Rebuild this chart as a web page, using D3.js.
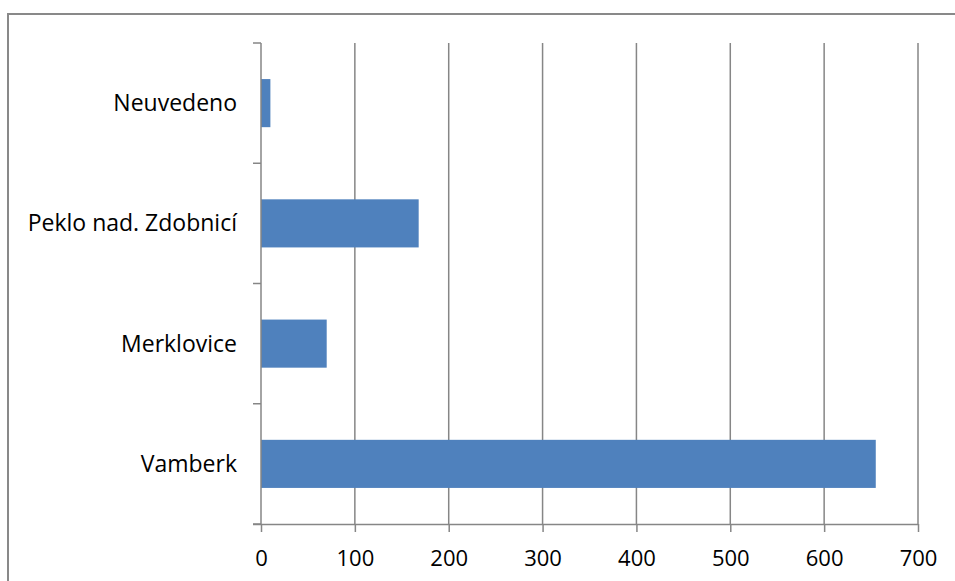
<!DOCTYPE html>
<html>
<head>
<meta charset="utf-8">
<script src='https://d3js.org/d3.v7.min.js'></script>
<style>
body {margin:0; background-color:#ffffff;}
svg text {font-family:'Open Sans',sans-serif; fill:#000;}
</style>
</head>
<body>
<svg width=955 height=581></svg>

<script>
var categories = ['Vamberk','Merklovice','Peklo nad. Zdobnicí','Neuvedeno']
var values = [655,70,168,10]
var ticks = [0,100,200,300,400,500,600,700]

var marginLeft = 261
var marginTop = 43
var width = 657
var height = 481

var svg = d3.select('svg')

// outer frame (runs off the right and bottom edge)
svg.append('path')
   .attr('d','M8,600 V14 H980')
   .attr('fill','none')
   .attr('stroke','#898989')
   .attr('stroke-width',2)

var x = d3.scaleLinear().domain([0,700]).range([0,width])
var y = d3.scaleBand().domain(categories).range([height,0]).paddingInner(0.6).paddingOuter(0.3)

var g = svg.append('g').attr('transform','translate('+marginLeft+','+marginTop+')')

// vertical gridlines
g.selectAll('.grid')
  .data(ticks.slice(1))
  .enter()
  .append('line')
    .attr('x1',function(d) {return x(d);})
    .attr('x2',function(d) {return x(d);})
    .attr('y1',0)
    .attr('y2',height)
    .attr('stroke','#868686')
    .attr('stroke-width',1.5)

// bars
g.selectAll('rect')
  .data(values)
  .enter()
  .append('rect')
    .attr('x',0)
    .attr('y',function(d,i) {return y(categories[i]);})
    .attr('width',function(d) {return x(d);})
    .attr('height',y.bandwidth())
    .attr('fill','#4F81BD')

// x axis
var xAxis = g.append('g')
   .attr('transform','translate(0,'+height+')')
   .call(d3.axisBottom(x).tickValues(ticks).tickSize(8).tickPadding(18))
xAxis.select('.domain').attr('d','M-8,0.5H'+width).attr('stroke','#868686').attr('stroke-width',1.5)
xAxis.selectAll('.tick line').attr('stroke','#868686').attr('stroke-width',1.5)
xAxis.selectAll('text').style('font-size','22px').style('font-family',"'Open Sans',sans-serif")

// y axis: ticks sit between categories
var yAxis = g.append('g')
yAxis.append('line')
   .attr('x1',0).attr('x2',0).attr('y1',0).attr('y2',height)
   .attr('stroke','#868686').attr('stroke-width',1.5)
var bounds = d3.range(categories.length+1).map(function(i) {return i*y.step();})
yAxis.selectAll('.ytick')
  .data(bounds)
  .enter()
  .append('line')
    .attr('x1',-8).attr('x2',0)
    .attr('y1',function(d) {return d;})
    .attr('y2',function(d) {return d;})
    .attr('stroke','#868686').attr('stroke-width',1.5)
yAxis.selectAll('.ylabel')
  .data(categories)
  .enter()
  .append('text')
    .attr('x',-24)
    .attr('y',function(d) {return y(d)+y.bandwidth()/2;})
    .attr('dy','0.35em')
    .attr('text-anchor','end')
    .style('font-size','23px')
    .text(function(d) {return d;})
</script>
</body>
</html>
